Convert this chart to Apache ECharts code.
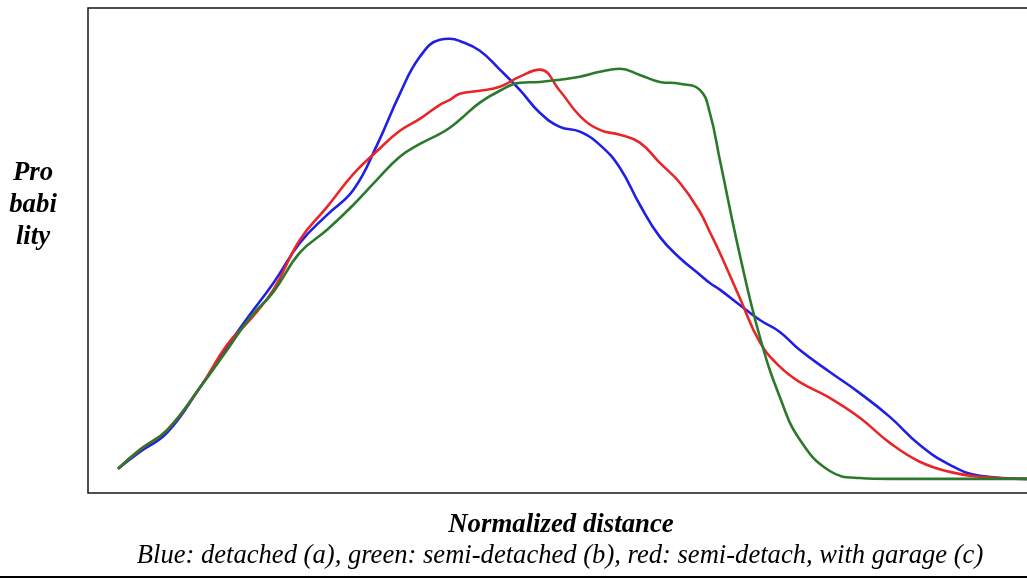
<!DOCTYPE html>
<html>
<head>
<meta charset="utf-8">
<script src="https://cdn.jsdelivr.net/npm/echarts@6/dist/echarts.min.js"></script>
<style>
  html, body { margin: 0; padding: 0; background: #fff; }
  #main { width: 1027px; height: 579px; }
</style>
</head>
<body>
<div id="main"></div>
<script>
// normalized distance (shared sample positions)
const distance = [0, 0.024, 0.054, 0.090, 0.120, 0.145, 0.171, 0.200, 0.230, 0.259,
  0.285, 0.310, 0.332, 0.354, 0.365, 0.376, 0.398, 0.420, 0.442, 0.464,
  0.486, 0.508, 0.530, 0.552, 0.574, 0.596, 0.618, 0.640, 0.651, 0.662,
  0.684, 0.706, 0.728, 0.750, 0.783, 0.816, 0.849, 0.882, 0.915, 0.948, 1.0];

// probability (relative units)
const detached = [2.3, 6.1, 10.5, 20.7, 30.0, 37.3, 44.5, 53.6, 60.0, 65.7,
  75.9, 87.5, 95.9, 99.8, 100, 99.5, 97.3, 93.0, 88.4, 83.2,
  80.0, 78.9, 75.9, 70.7, 62.3, 55.0, 50.2, 46.4, 44.5, 43.0,
  39.5, 36.1, 33.4, 29.3, 24.3, 19.5, 14.1, 7.7, 3.2, 0.7, 0];

const semiDetached = [2.3, 6.6, 11.1, 20.7, 29.3, 36.6, 42.5, 51.4, 56.6, 62.3,
  68.0, 73.2, 76.1, 78.4, 79.8, 81.6, 85.5, 88.2, 90.0, 90.2,
  90.7, 91.4, 92.5, 93.2, 91.8, 90.2, 89.8, 88.4, 83.2, 72.5,
  50.9, 32.3, 18.6, 8.9, 1.8, 0.2, 0, 0, 0, 0, 0];

const withGarage = [2.3, 6.6, 11.1, 20.7, 30.5, 36.1, 43.0, 54.3, 61.8, 69.3,
  74.5, 79.1, 81.8, 85.0, 86.1, 87.5, 88.2, 89.1, 91.4, 93.0,
  88.2, 82.5, 79.3, 78.2, 76.4, 71.8, 67.3, 60.7, 56.1, 51.4,
  41.1, 31.1, 25.5, 22.0, 18.4, 13.9, 8.2, 3.9, 1.6, 0.5, 0];

function pairs(ys) {
  return distance.map((x, i) => [x, ys[i]]);
}

function curve(name, color, ys) {
  return {
    name: name,
    type: 'line',
    data: pairs(ys),
    smooth: 0.45,
    showSymbol: false,
    clip: true,
    lineStyle: { color: color, width: 2.6 },
    itemStyle: { color: color }
  };
}

const serif = '"Liberation Serif", "DejaVu Serif", serif';

let chart = echarts.init(document.getElementById('main'));
chart.setOption({
  backgroundColor: '#fff',
  animation: false,
  grid: {
    left: 88, top: 8, width: 960, height: 485,
    outerBoundsMode: 'none',
    show: true, borderColor: '#151515', borderWidth: 1.5
  },
  xAxis: {
    type: 'value', min: -0.033, max: 1.023,
    axisLine: { show: false }, axisTick: { show: false },
    axisLabel: { show: false }, splitLine: { show: false }
  },
  yAxis: {
    type: 'value', min: -3.2, max: 107,
    axisLine: { show: false }, axisTick: { show: false },
    axisLabel: { show: false }, splitLine: { show: false }
  },
  series: [
    curve('detached (a)', '#1f1fe6', detached),
    curve('with garage (c)', '#e8262a', withGarage),
    curve('semi-detached (b)', '#2b7a2b', semiDetached)
  ],
  graphic: [
    { type: 'text', x: 33, y: 157, style: {
        text: 'Pro\nbabi\nlity', fill: '#000', align: 'center',
        font: 'italic bold 26.8px ' + serif, lineHeight: 32 } },
    { type: 'text', x: 561, y: 525, style: {
        text: 'Normalized distance', fill: '#000', align: 'center', verticalAlign: 'middle',
        font: 'italic bold 26.8px ' + serif } },
    { type: 'text', x: 560, y: 556, style: {
        text: 'Blue: detached (a), green: semi-detached (b), red: semi-detach, with garage (c)',
        fill: '#000', align: 'center', verticalAlign: 'middle',
        font: 'italic 26.6px ' + serif } },
    { type: 'line', shape: { x1: 0, y1: 577, x2: 1027, y2: 577 },
      style: { stroke: '#000', lineWidth: 2 } }
  ]
});
</script>
</body>
</html>
